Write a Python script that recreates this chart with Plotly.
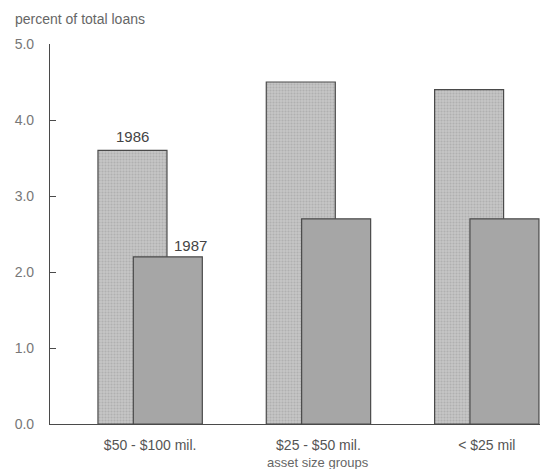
import plotly.graph_objects as go

categories = ["$50 - $100 mil.", "$25 - $50 mil.", "< $25 mil"]
values_1986 = [3.6, 4.5, 4.4]
values_1987 = [2.2, 2.7, 2.7]
y_ticks = [0, 1, 2, 3, 4, 5]
y_tick_labels = ["0.0", "1.0", "2.0", "3.0", "4.0", "5.0"]

font_family = "Liberation Sans, Arial, sans-serif"
text_color = "#555555"
line_color = "#4a4a4a"

fig = go.Figure()
fig.add_trace(go.Bar(
    x=categories, y=values_1986, name="1986",
    width=0.41, offset=-0.31,
    marker=dict(color="#bcbcbc", line=dict(color=line_color, width=1.2),
                pattern=dict(shape=".", fgcolor="#9a9a9a", bgcolor="#c6c6c6", size=3, solidity=0.4)),
))
fig.add_trace(go.Bar(
    x=categories, y=values_1987, name="1987",
    width=0.41, offset=-0.10,
    marker=dict(color="#a6a6a6", line=dict(color=line_color, width=1.2)),
))

fig.update_layout(
    width=540, height=461,
    margin=dict(l=42, r=4, t=36, b=45),
    paper_bgcolor="white", plot_bgcolor="white",
    barmode="overlay", showlegend=False,
    font=dict(family=font_family, size=13, color=text_color),
    xaxis=dict(
        range=[-0.595, 2.34], showline=True, linecolor=line_color, linewidth=1.2,
        ticks="", showgrid=False, tickfont=dict(size=14, color="#555555"),
        ticklabelstandoff=8,
    ),
    yaxis=dict(
        range=[0, 5], tickvals=y_ticks, ticktext=y_tick_labels,
        showline=True, linecolor=line_color, linewidth=1.2,
        ticks="inside", ticklen=6, tickcolor=line_color, showgrid=False,
        zeroline=False, tickfont=dict(size=14, color="#777777"), ticklabelstandoff=12,
    ),
    annotations=[
        dict(text="percent of total loans", xref="paper", yref="paper",
             x=-0.075, y=1.04, xanchor="left", yanchor="bottom", showarrow=False,
             font=dict(size=14, color="#666666")),
        dict(text="asset size groups", xref="x", yref="paper",
             x=1, y=-0.1, xanchor="center", yanchor="middle", showarrow=False,
             font=dict(size=13, color="#666666")),
        dict(text="1986", x=-0.105, y=values_1986[0], xref="x", yref="y",
             xanchor="center", yanchor="bottom", yshift=3, showarrow=False,
             font=dict(size=15, color="#444444")),
        dict(text="1987", x=0.24, y=values_1987[0], xref="x", yref="y",
             xanchor="center", yanchor="bottom", yshift=1, showarrow=False,
             font=dict(size=15, color="#444444")),
    ],
)

fig.write_html("out.html")
